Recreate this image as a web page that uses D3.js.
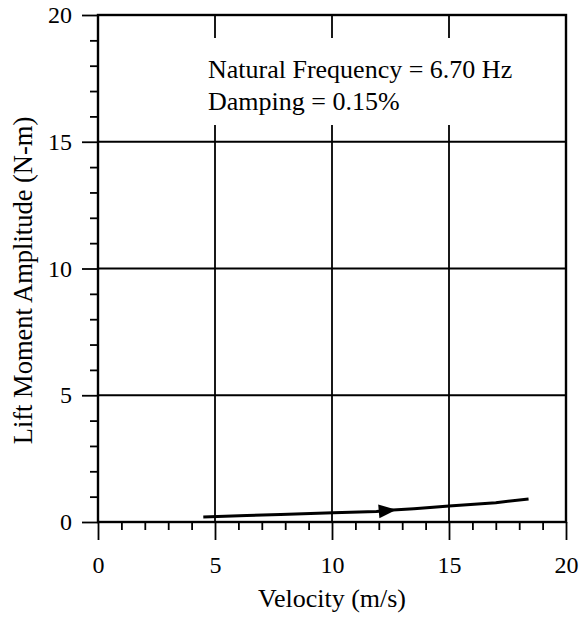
<!DOCTYPE html>
<html>
<head>
<meta charset="utf-8">
<script src="https://cdn.jsdelivr.net/npm/d3@7"></script>
<style>
  body { margin: 0; background: #fff; }
  text { font-family: "Liberation Serif", "Times New Roman", serif; fill: #000; }
</style>
</head>
<body>
<div id="chart"></div>
<script>
// data
const velocity = [4.5, 6.35, 7.8, 10.05, 11.9, 12.6, 13.5, 15.0, 17.0, 18.4];
const amplitude = [0.2, 0.26, 0.3, 0.36, 0.41, 0.47, 0.52, 0.63, 0.76, 0.91];
const arrowAt = [12.0, 12.75];   // arrow head runs between these velocities
const majorTicks = [0, 5, 10, 15, 20];
const minorTicks = d3.range(0, 21).filter(d => d % 5 !== 0);
const gridValues = [5, 10, 15];
const notes = ["Natural Frequency = 6.70 Hz", "Damping = 0.15%"];

const W = 581, H = 624;
const margin = {top: 15, right: 15, bottom: 102, left: 98},
  width = W - margin.left - margin.right,
  height = H - margin.top - margin.bottom;

const svg = d3.select("#chart")
  .append("svg")
  .attr("width", W)
  .attr("height", H)
  .append("g")
  .attr("transform", `translate(${margin.left},${margin.top})`);

const x = d3.scaleLinear().domain([0, 20]).range([0, width]);
const y = d3.scaleLinear().domain([0, 20]).range([height, 0]);

// grid lines
svg.append("g")
  .selectAll("line")
  .data(gridValues)
  .join("line")
  .attr("x1", d => x(d)).attr("x2", d => x(d))
  .attr("y1", 0).attr("y2", height)
  .attr("stroke", "#000").attr("stroke-width", 1.8);
svg.append("g")
  .selectAll("line")
  .data(gridValues)
  .join("line")
  .attr("x1", 0).attr("x2", width)
  .attr("y1", d => y(d)).attr("y2", d => y(d))
  .attr("stroke", "#000").attr("stroke-width", 1.8);

// annotation box (hides the grid behind the text)
svg.append("rect")
  .attr("x", 102).attr("y", 23)
  .attr("width", 320).attr("height", 87)
  .attr("fill", "#fff");
svg.append("g")
  .selectAll("text")
  .data(notes)
  .join("text")
  .attr("x", 110)
  .attr("y", (d, i) => 63 + i * 32)
  .style("font-size", "26px")
  .text(d => d);

// frame
svg.append("rect")
  .attr("width", width).attr("height", height)
  .attr("fill", "none")
  .attr("stroke", "#000").attr("stroke-width", 2.4);

// x axis: major + minor ticks
const xMajor = svg.append("g")
  .attr("transform", `translate(0,${height})`)
  .call(d3.axisBottom(x).tickValues(majorTicks).tickSize(18).tickPadding(16).tickFormat(d3.format("d")));
const xMinor = svg.append("g")
  .attr("transform", `translate(0,${height})`)
  .call(d3.axisBottom(x).tickValues(minorTicks).tickSize(8).tickFormat(""));

// y axis: major + minor ticks
const yMajor = svg.append("g")
  .call(d3.axisLeft(y).tickValues(majorTicks).tickSize(16).tickPadding(10).tickFormat(d3.format("d")));
const yMinor = svg.append("g")
  .call(d3.axisLeft(y).tickValues(minorTicks).tickSize(8).tickFormat(""));

[xMajor, xMinor, yMajor, yMinor].forEach(a => {
  a.select(".domain").remove();
  a.selectAll(".tick line").attr("stroke", "#000").attr("stroke-width", 1.8);
  a.selectAll("text").style("font-size", "24px").style("font-family", "Liberation Serif, serif");
});

// axis titles
svg.append("text")
  .attr("x", width / 2)
  .attr("y", height + 85)
  .attr("text-anchor", "middle")
  .style("font-size", "26px")
  .text("Velocity (m/s)");
svg.append("text")
  .attr("transform", `translate(${-66},${height / 2 + 12}) rotate(-90)`)
  .attr("text-anchor", "middle")
  .style("font-size", "26.5px")
  .text("Lift Moment Amplitude (N-m)");

// data line
const pts = velocity.map((v, i) => [v, amplitude[i]]);
svg.append("path")
  .datum(pts)
  .attr("fill", "none")
  .attr("stroke", "#000")
  .attr("stroke-width", 3)
  .attr("d", d3.line().x(d => x(d[0])).y(d => y(d[1])));

// arrow head along the line
const yAt = d3.scaleLinear().domain(velocity).range(amplitude);
const bx = x(arrowAt[0]), by = y(yAt(arrowAt[0]));
const tx = x(arrowAt[1]), ty = y(yAt(arrowAt[1]));
const ang = Math.atan2(ty - by, tx - bx);
const half = 7;
svg.append("path")
  .attr("d", d3.line()([
    [tx, ty],
    [bx - half * Math.sin(ang), by + half * Math.cos(ang)],
    [bx + half * Math.sin(ang), by - half * Math.cos(ang)]
  ]) + "Z")
  .attr("fill", "#000");
</script>
</body>
</html>
